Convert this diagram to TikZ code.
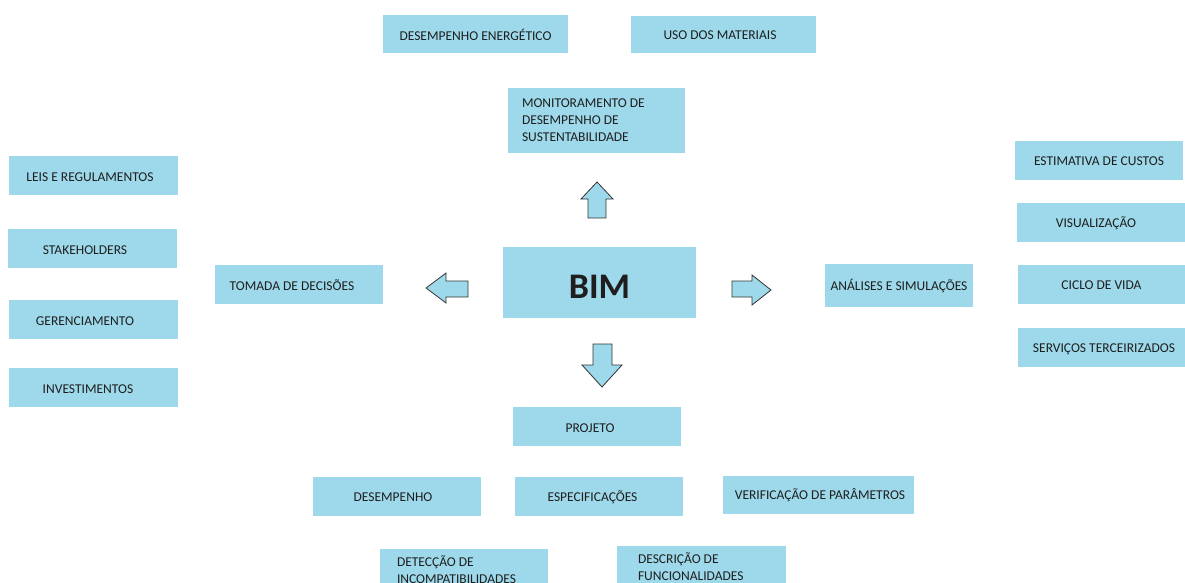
\documentclass[tikz,border=0pt]{standalone}
\usepackage{fontspec}
\setmainfont{Carlito}
\definecolor{bimblue}{RGB}{157,217,234}
\definecolor{txt}{RGB}{30,30,30}
\tikzset{
  box/.style={fill=bimblue, draw=none, inner sep=0pt, text=txt, font=\fontsize{13.5}{17}\selectfont, align=center},
  lbl/.style={inner sep=0pt, text=txt, font=\fontsize{13.5}{17}\selectfont},
  multibox/.style={box, align=flush left, inner ysep=0pt},
  blockarrow/.style={fill=bimblue, draw=black!80, line width=0.8pt, line join=miter}
}
\begin{document}
\begin{tikzpicture}[x=1pt, y=-1pt]
\useasboundingbox (0,0) rectangle (1185,583);
% top
\node[box, minimum width=185pt, minimum height=38pt] (energ) at (475.5,34) {};
\node[lbl] (energ-t) at ([shift={(0,1)}]energ.center) {DESEMPENHO ENERGÉTICO};
\node[box, minimum width=185pt, minimum height=37pt] (mater) at (723.5,34.5) {};
\node[lbl] (mater-t) at ([shift={(-3.5,1)}]mater.center) {USO DOS MATERIAIS};
\node[multibox, text width=149pt, inner xsep=14pt, minimum height=65pt] (monit) at (596.5,120.5) {MONITORAMENTO DE\\DESEMPENHO DE\\SUSTENTABILIDADE};
% center
\node[box, minimum width=193pt, minimum height=71pt, font=\fontsize{36}{40}\selectfont\bfseries, text height=31pt, text depth=0pt] (bim) at (599.5,282.5) {BIM};
% left
\node[box, minimum width=169pt, minimum height=39pt] (leis) at (93.5,175.5) {};
\node[lbl] (leis-t) at ([shift={(-3.5,1.5)}]leis.center) {LEIS E REGULAMENTOS};
\node[box, minimum width=169pt, minimum height=39pt] (stake) at (92.5,248.5) {};
\node[lbl] (stake-t) at ([shift={(-7.5,1.5)}]stake.center) {STAKEHOLDERS};
\node[box, minimum width=169pt, minimum height=39pt] (geren) at (93.5,319.5) {};
\node[lbl] (geren-t) at ([shift={(-8.5,1.5)}]geren.center) {GERENCIAMENTO};
\node[box, minimum width=169pt, minimum height=39pt] (invest) at (93.5,387.5) {};
\node[lbl] (invest-t) at ([shift={(-5.5,1.5)}]invest.center) {INVESTIMENTOS};
\node[box, minimum width=168pt, minimum height=39pt] (tomada) at (299,284.5) {};
\node[lbl] (tomada-t) at ([shift={(-7,0.5)}]tomada.center) {TOMADA DE DECISÕES};
% right
\node[box, minimum width=148pt, minimum height=43pt] (analis) at (899,285.5) {};
\node[lbl] (analis-t) at ([shift={(0,0.5)}]analis.center) {ANÁLISES E SIMULAÇÕES};
\node[box, minimum width=168pt, minimum height=39pt] (estim) at (1099,160.5) {};
\node[lbl] (estim-t) at ([shift={(0,1)}]estim.center) {ESTIMATIVA DE CUSTOS};
\node[box, minimum width=168pt, minimum height=39pt] (visual) at (1101,222.5) {};
\node[lbl] (visual-t) at ([shift={(-5,1)}]visual.center) {VISUALIZAÇÃO};
\node[box, minimum width=167pt, minimum height=39pt] (ciclo) at (1101.5,284.5) {};
\node[lbl] (ciclo-t) at ([shift={(0,1)}]ciclo.center) {CICLO DE VIDA};
\node[box, minimum width=167pt, minimum height=39pt] (servic) at (1101.5,347.5) {};
\node[lbl] (servic-t) at ([shift={(2.5,1.5)}]servic.center) {SERVIÇOS TERCEIRIZADOS};
% bottom
\node[box, minimum width=168pt, minimum height=39pt] (proj) at (597,426.5) {};
\node[lbl] (proj-t) at ([shift={(-7,1.5)}]proj.center) {PROJETO};
\node[box, minimum width=168pt, minimum height=39pt] (desemp) at (397,496.5) {};
\node[lbl] (desemp-t) at ([shift={(-4,1)}]desemp.center) {DESEMPENHO};
\node[box, minimum width=168pt, minimum height=39pt] (espec) at (599,496.5) {};
\node[lbl] (espec-t) at ([shift={(-6.5,1)}]espec.center) {ESPECIFICAÇÕES};
\node[box, minimum width=191pt, minimum height=38pt] (verif) at (818.5,495) {};
\node[lbl] (verif-t) at ([shift={(1.5,0.5)}]verif.center) {VERIFICAÇÃO DE PARÂMETROS};
\node[multibox, text width=134pt, inner xsep=17pt, minimum height=41pt] (detec) at (464,569.5) {DETECÇÃO DE\\INCOMPATIBILIDADES};
\node[multibox, text width=127pt, inner xsep=21pt, minimum height=41pt] (descr) at (701.5,566.5) {DESCRIÇÃO DE\\FUNCIONALIDADES};
% block arrows
\draw[blockarrow] (597,182) -- (613,199) -- (606,199) -- (606,218) -- (588,218) -- (588,199) -- (581,199) -- cycle;
\draw[blockarrow] (426,288) -- (446,273) -- (446,281) -- (468,281) -- (468,297) -- (446,297) -- (446,303) -- cycle;
\draw[blockarrow] (771,290) -- (752,305) -- (752,297) -- (732,297) -- (732,281) -- (752,281) -- (752,275) -- cycle;
\draw[blockarrow] (602,387) -- (582,365) -- (593,365) -- (593,344) -- (612,344) -- (612,365) -- (622,365) -- cycle;
\end{tikzpicture}
\end{document}
